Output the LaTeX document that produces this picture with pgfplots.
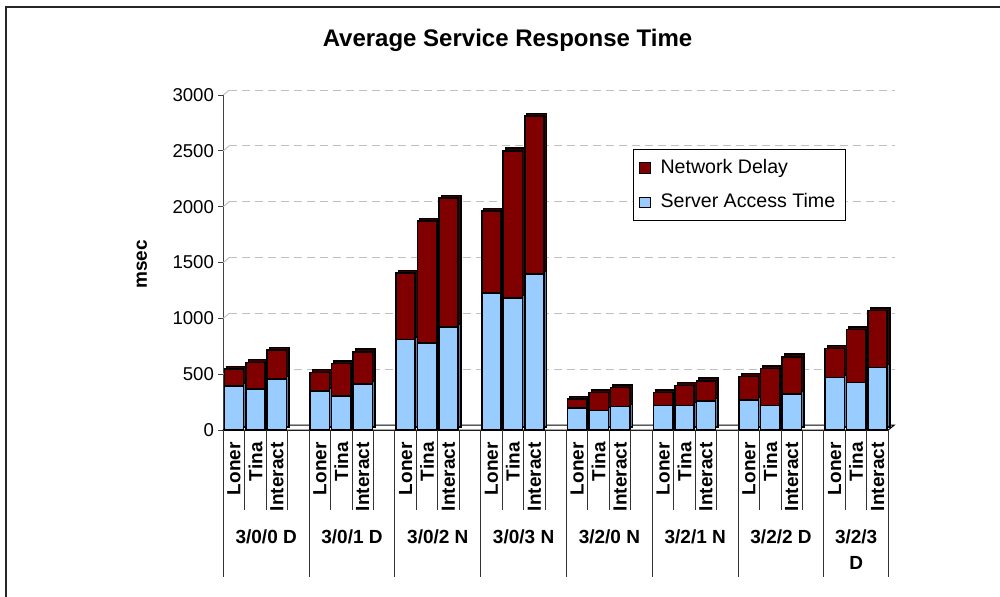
\documentclass[border=0pt]{standalone}
\usepackage{fontspec}
\setmainfont{Liberation Sans}
\usepackage{pgfplots}
\usepackage{pgfplotstable}
\pgfplotsset{compat=1.18}

\definecolor{sat}{HTML}{99CCFF}
\definecolor{nd}{HTML}{800000}
\definecolor{satside}{HTML}{5A7FA8}
\definecolor{ndside}{HTML}{3C0000}
\definecolor{gridc}{HTML}{C0C0C0}

% x = slot position (gap slots between configurations stay empty)
% sat = server access time, nd = network delay (msec)
\pgfplotstableread{
x  sat   nd
0  395   150
1  365   240
2  455   260
4  350   165
5  305   290
6  410   290
8  810   595
9  780   1090
10 920   1155
12 1225  735
13 1180  1320
14 1395  1415
16 195   80
17 175   160
18 210   170
20 220   115
21 220   180
22 260   180
24 270   210
25 220   330
26 320   335
28 470   260
29 425   475
30 560   510
}\resp

\begin{document}
\begin{tikzpicture}
\useasboundingbox (0,0) rectangle (500pt,298pt);
% chart frame
\draw[line width=1pt, black!85] (3pt,-20pt) -- (3pt,294.5pt) -- (520pt,294.5pt);

\begin{axis}[
  at={(111.65pt,83pt)}, anchor=south west,
  scale only axis, width=332.5pt, height=167.5pt,
  xmin=-0.5, xmax=30.5, ymin=0, ymax=3000,
  enlargelimits=false, clip=false,
  ybar, bar width=0.9, bar shift=0pt,
  axis x line*=bottom, axis y line*=left,
  axis line style={black!75, line width=0.5pt},
  tick align=outside, major tick length=2.5pt,
  ytick={0,500,...,3000},
  ytick style={black!75, line width=0.5pt},
  /pgf/number format/assume math mode=true,
  /pgf/number format/1000 sep={},
  yticklabel style={font=\fontsize{9.3}{11}\selectfont, inner sep=2pt},
  xtick={0,1,2,4,5,6,8,9,10,12,13,14,16,17,18,20,21,22,24,25,26,28,29,30},
  xticklabels={Loner,Tina,Interact,Loner,Tina,Interact,Loner,Tina,Interact,
    Loner,Tina,Interact,Loner,Tina,Interact,Loner,Tina,Interact,
    Loner,Tina,Interact,Loner,Tina,Interact},
  major x tick style={draw=none},
  xticklabel style={font=\fontsize{9.5}{11}\selectfont\bfseries,
    rotate=90, anchor=east, inner sep=0pt},
  xticklabel shift=3.5pt,
  title={Average Service Response Time},
  title style={at={(rel axis cs:0.4274,1.127)}, anchor=center,
    font=\fontsize{12}{14}\selectfont\bfseries},
  ylabel={msec},
  ylabel style={at={(rel axis cs:-0.1223,0.495)}, anchor=center,
    font=\fontsize{9.5}{11}\selectfont\bfseries},
  legend style={at={(rel axis cs:0.6156,0.8388)}, anchor=north west,
    draw=black, line width=0.5pt,
    font=\fontsize{9.8}{11}\selectfont, inner xsep=3pt, inner ysep=3pt,
    row sep=4.5pt,
    /tikz/every odd column/.append style={column sep=3pt}},
  legend cell align=left,
  legend image code/.code={\draw[#1, draw=black, line width=0.5pt]
    (0pt,-2.6pt) rectangle (5.2pt,2.6pt);},
]

% back-wall gridlines with their connectors to the value axis
\pgfplotsinvokeforeach{500,1000,1500,2000,2500,3000}{
  \draw[gridc, line width=0.5pt] (axis cs:-0.5,#1) -- ++(3pt,2.5pt);
  \draw[gridc, line width=0.5pt, dash pattern=on 4pt off 2.5pt]
    (axis cs:-0.5,#1) ++(3pt,2.5pt) -- ++(333pt,0pt);
}
% floor
\draw[black, line width=0.5pt, fill=white]
  (axis cs:-0.5,0) -- ++(3pt,2.5pt) -- ++(332.5pt,0pt)
  -- (axis cs:30.5,0) -- cycle;

% depth faces of the bars
\addplot[forget plot, fill=ndside, draw=black, line width=0.8pt,
  xshift=1.25pt, yshift=1.4pt]
  table[x=x, y expr=\thisrow{sat}+\thisrow{nd}]{\resp};
\addplot[forget plot, fill=satside, draw=black, line width=0.8pt,
  xshift=1.25pt, yshift=1.4pt]
  table[x=x, y=sat]{\resp};

% front faces: network delay stacked on server access time
\addplot[fill=nd, draw=black, line width=0.8pt]
  table[x=x, y expr=\thisrow{sat}+\thisrow{nd}]{\resp};
\addlegendentry{Network Delay}
\addplot[fill=sat, draw=black, line width=0.8pt]
  table[x=x, y=sat]{\resp};
\addlegendentry{Server Access Time}

% category separators below the axis
\pgfplotsinvokeforeach{0.5,1.5,2.5,4.5,5.5,6.5,8.5,9.5,10.5,12.5,13.5,14.5,
  16.5,17.5,18.5,20.5,21.5,22.5,24.5,25.5,26.5,28.5,29.5}{
  \draw[black!80, line width=0.5pt] (axis cs:#1,0) -- ++(0pt,-40pt);
}
\pgfplotsinvokeforeach{-0.5,3.5,7.5,11.5,15.5,19.5,23.5,27.5,30.5}{
  \draw[black!80, line width=0.5pt] (axis cs:#1,0) -- ++(0pt,-73.5pt);
}

% configuration names
\tikzset{grp/.style={font=\fontsize{9.5}{11}\selectfont\bfseries,
  anchor=base, inner sep=0pt, yshift=-56.9pt}}
\node[grp] at (axis cs:1.5,0)  {3/0/0 D};
\node[grp] at (axis cs:5.5,0)  {3/0/1 D};
\node[grp] at (axis cs:9.5,0)  {3/0/2 N};
\node[grp] at (axis cs:13.5,0) {3/0/3 N};
\node[grp] at (axis cs:17.5,0) {3/2/0 N};
\node[grp] at (axis cs:21.5,0) {3/2/1 N};
\node[grp] at (axis cs:25.5,0) {3/2/2 D};
\node[grp] at (axis cs:29,0)   {3/2/3};
\node[grp, yshift=-13pt] at (axis cs:29,0) {D};
\end{axis}
\end{tikzpicture}
\end{document}
